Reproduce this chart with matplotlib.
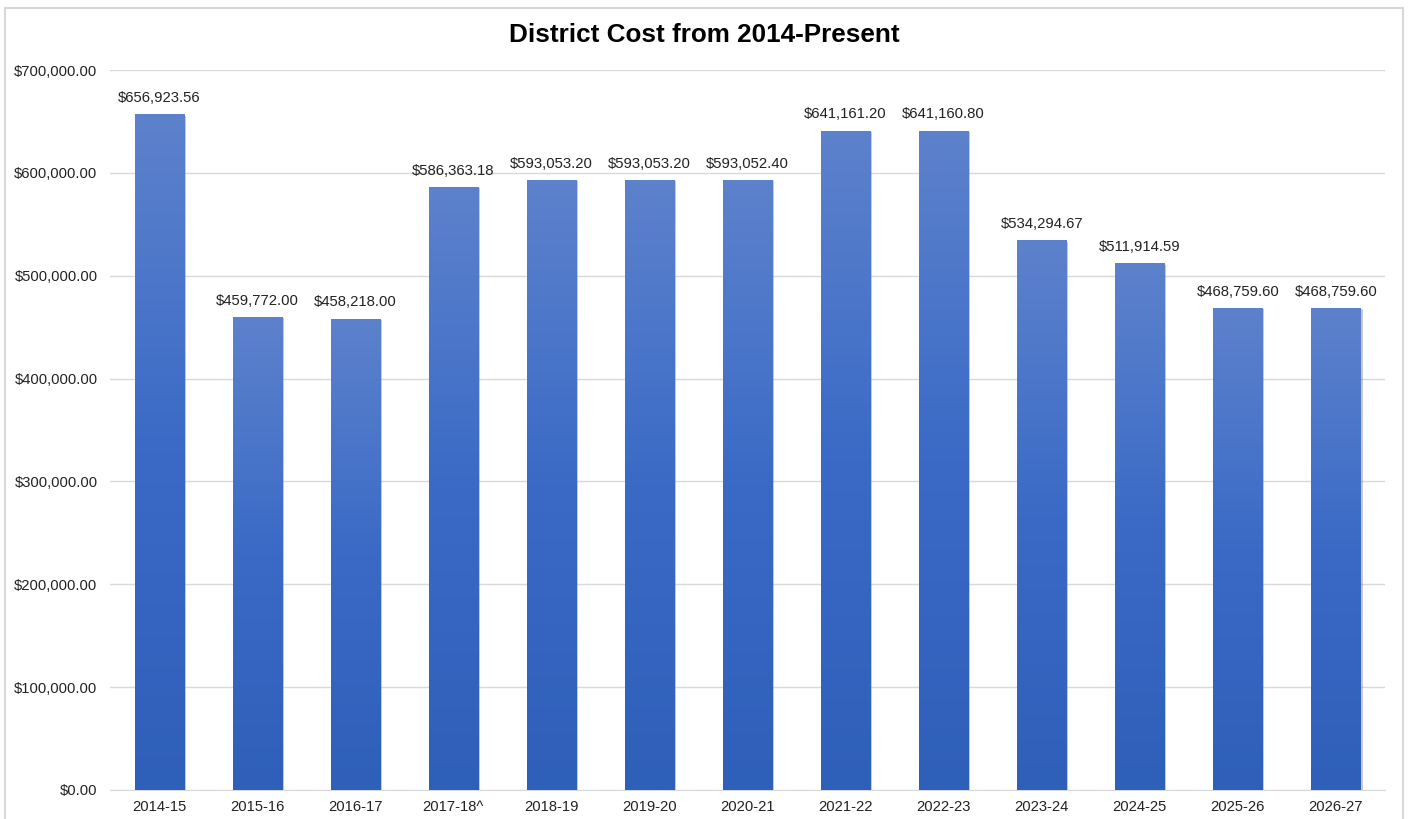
import numpy as np
import matplotlib
matplotlib.use("Agg")
import matplotlib.pyplot as plt
from matplotlib.patches import Rectangle
from matplotlib.colors import LinearSegmentedColormap
from matplotlib import patheffects as pe
from matplotlib.ticker import FuncFormatter

plt.rcParams["font.family"] = ["Liberation Sans", "DejaVu Sans"]

years = ["2014-15", "2015-16", "2016-17", "2017-18^", "2018-19", "2019-20", "2020-21",
         "2021-22", "2022-23", "2023-24", "2024-25", "2025-26", "2026-27"]
costs = [656923.56, 459772.00, 458218.00, 586363.18, 593053.20, 593053.20, 593052.40,
         641161.20, 641160.80, 534294.67, 511914.59, 468759.60, 468759.60]

# gradient: lighter at top, deeper blue at bottom
grad = LinearSegmentedColormap.from_list("bar", ["#2e5fb9", "#3a6ac6", "#5d82cc"])

fig = plt.figure(figsize=(14.09, 8.19), dpi=100)
ax = fig.add_axes([110 / 1409, 1 - 790 / 819, 1275 / 1409, 720 / 819])

x = np.arange(len(years))
bars = ax.bar(x, costs, width=0.5, color="#3a6ac6", zorder=2,
              path_effects=[pe.SimplePatchShadow(offset=(1.5, -1), shadow_rgbFace="0.4", alpha=0.35),
                            pe.Normal()])
g = np.linspace(0, 1, 256).reshape(-1, 1)
for b in bars:
    x0, w, h = b.get_x(), b.get_width(), b.get_height()
    im = ax.imshow(g, cmap=grad, aspect="auto", origin="lower",
                   extent=(x0, x0 + w, 0, h), zorder=3)
    im.set_clip_path(b)
    ax.text(x0 + w / 2, h + 9000, f"${h:,.2f}", ha="center", va="bottom",
            fontsize=10.7, color="#222222", zorder=4)

ax.set_xlim(-0.5, len(years) - 0.5)
ax.set_ylim(0, 700000)
ax.set_yticks(np.arange(0, 700001, 100000))
ax.yaxis.set_major_formatter(FuncFormatter(lambda v, _: f"${v:,.2f}"))
ax.set_xticks(x)
ax.set_xticklabels(years)
ax.tick_params(axis="both", length=0, labelsize=10.6, labelcolor="#222222")
ax.tick_params(axis="x", pad=7)
ax.tick_params(axis="y", pad=9)
ax.grid(axis="y", color="#d9d9d9", lw=1, zorder=0)
ax.set_axisbelow(True)
for s in ("top", "right", "left"):
    ax.spines[s].set_visible(False)
ax.spines["bottom"].set_color("#d9d9d9")

fig.text(0.5, 1 - 35 / 819, "District Cost from 2014-Present", ha="center", va="center",
         fontsize=18.8, fontweight="bold", color="black")
fig.patches.append(Rectangle((4.5 / 1409, -0.05), 1398 / 1409, 1.05 - 7.5 / 819,
                             transform=fig.transFigure, fill=False, ec="#d0d0d0", lw=1.2))

fig.savefig("out.png", dpi=100)
